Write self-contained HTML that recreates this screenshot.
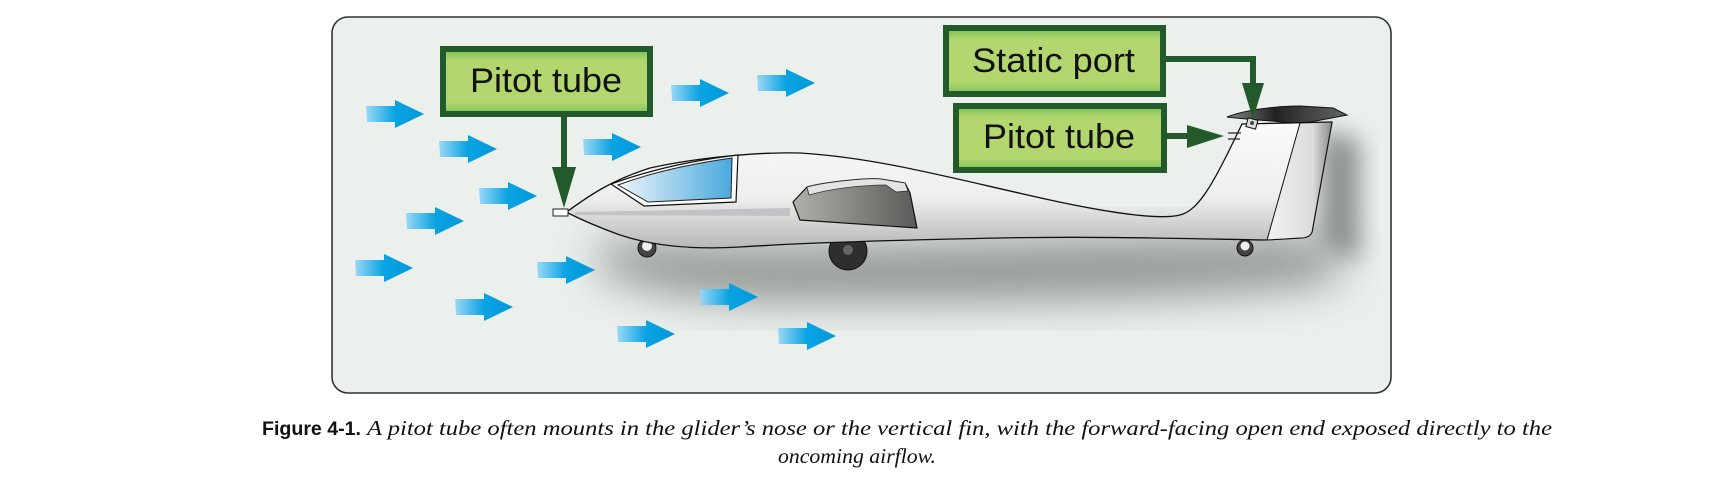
<!DOCTYPE html>
<html><head><meta charset="utf-8"><style>
html,body{margin:0;padding:0;background:#fff;}
svg{display:block;}
</style></head><body>
<svg width="1723" height="486" viewBox="0 0 1723 486" xmlns="http://www.w3.org/2000/svg">
<defs>
<linearGradient id="box" x1="0" y1="0" x2="0" y2="1">
<stop offset="0" stop-color="#74bf55"/><stop offset="0.18" stop-color="#b3d66e"/><stop offset="0.82" stop-color="#b3d66e"/><stop offset="1" stop-color="#7cc557"/>
</linearGradient>
<linearGradient id="arr" x1="0" y1="0" x2="1" y2="0">
<stop offset="0" stop-color="#9ad8f6"/><stop offset="0.5" stop-color="#0aa3e2"/><stop offset="1" stop-color="#0099dc"/>
</linearGradient>
<linearGradient id="fus" x1="0" y1="0" x2="0" y2="1">
<stop offset="0" stop-color="#fbfbfb"/><stop offset="0.6" stop-color="#eeeeee"/><stop offset="1" stop-color="#b8b8b6"/>
</linearGradient>
<linearGradient id="glass" x1="0" y1="0" x2="1" y2="0">
<stop offset="0" stop-color="#eef4fa"/><stop offset="1" stop-color="#4aa9dd"/>
</linearGradient>
<linearGradient id="wing" x1="0" y1="0" x2="1" y2="0">
<stop offset="0" stop-color="#b0b0ab"/><stop offset="1" stop-color="#5a5a58"/>
</linearGradient>
<linearGradient id="stab" x1="0" y1="0" x2="1" y2="0">
<stop offset="0" stop-color="#888"/><stop offset="0.4" stop-color="#222"/><stop offset="1" stop-color="#666"/>
</linearGradient>
<linearGradient id="rud" x1="0" y1="0" x2="1" y2="0">
<stop offset="0" stop-color="#f2f2f2"/><stop offset="0.7" stop-color="#dcdcdc"/><stop offset="1" stop-color="#8a8a8a"/>
</linearGradient>
<filter id="blur" x="-20%" y="-50%" width="140%" height="200%"><feGaussianBlur stdDeviation="22"/></filter>
<filter id="blur2" x="-50%" y="-50%" width="200%" height="200%"><feGaussianBlur stdDeviation="12"/></filter>
<g id="a"><path d="M0,-8 L29,-8 L29,-14 L58,0 L29,14 L29,8 L1,8 Z" fill="url(#arr)"/></g>
</defs>

<rect x="332" y="17" width="1059" height="376" rx="16" ry="16" fill="#ebf0ed" stroke="#333" stroke-width="1.6"/>

<g opacity="0.75">
<path d="M600,240 C700,250 900,246 1100,240 L1330,238 L1340,280 C1200,300 1000,300 800,300 C700,300 640,290 600,270 Z" fill="#6f7370" filter="url(#blur)"/>
<path d="M1320,130 L1360,140 L1360,260 L1320,250 Z" fill="#6f7370" filter="url(#blur2)"/>
</g>

<use href="#a" x="366" y="114"/>
<use href="#a" x="439" y="149"/>
<use href="#a" x="479" y="196"/>
<use href="#a" x="406" y="221"/>
<use href="#a" x="355" y="268"/>
<use href="#a" x="455" y="307"/>
<use href="#a" x="537" y="270"/>
<use href="#a" x="583" y="147"/>
<use href="#a" x="671" y="93"/>
<use href="#a" x="757" y="83"/>
<use href="#a" x="700" y="297"/>
<use href="#a" x="617" y="334"/>
<use href="#a" x="778" y="336"/>

<circle cx="647" cy="248" r="9" fill="#444" stroke="#111"/>
<circle cx="647" cy="246" r="5" fill="#eee"/>
<circle cx="848" cy="251" r="19" fill="#2e2e2e" stroke="#111"/>
<circle cx="848" cy="250" r="5" fill="#666"/>
<circle cx="1245" cy="248" r="8" fill="#444" stroke="#111"/>
<circle cx="1245" cy="246" r="4.5" fill="#eee"/>

<path d="M1227,117 C1245,110 1275,106 1300,106 L1333,108 L1347,115 L1300,124 C1280,121 1250,120 1227,117 Z" fill="url(#stab)" stroke="#111" stroke-width="1"/>

<path d="M568,211 C590,195 612,180 650,168 C700,157 760,152 800,153 C880,158 950,178 1050,200 C1110,213 1160,220 1180,215 C1200,210 1215,180 1242,124 L1332,122 L1312,232 C1310,237 1305,238 1300,238 L1265,240 C1200,239 1100,236 1000,238 C900,240 800,243 740,247 C690,250 650,245 620,235 C595,226 578,218 568,213 Z" fill="url(#fus)" stroke="#111" stroke-width="1.3"/>
<path d="M1300,123 L1332,122 L1312,232 C1310,237 1305,238 1300,238 L1267,240 Z" fill="url(#rud)" stroke="#111" stroke-width="1"/>
<rect x="553" y="209" width="15" height="7" fill="#fff" stroke="#222" stroke-width="1"/>
<polygon points="575,212 790,208 790,216 575,215" fill="#c2c3c6"/>
<path d="M611,184 L644,206 L736,202 L738,155 C695,160 650,170 611,184 Z" fill="#fafafa" stroke="#111" stroke-width="1.2"/>
<path d="M618,185 L648,202 L731,198 L732,158 C690,164 650,173 618,185 Z" fill="url(#glass)" stroke="#222" stroke-width="1"/>
<path d="M793,202 L807,187 C830,181 870,178 880,179 L905,183 L910,193 L917,228 L800,220 Z" fill="url(#wing)" stroke="#111" stroke-width="1.2"/>
<path d="M807,187 C830,181 870,178 880,179 L905,183 L908,191 L896,192 L886,185 C860,185 830,189 809,195 Z" fill="#e4e4e2" stroke="#333" stroke-width="0.8"/>
<rect x="1247" y="119" width="10" height="9" fill="#ddd" stroke="#111" stroke-width="1" transform="rotate(15 1252 123)"/>
<circle cx="1252" cy="123" r="2" fill="#444"/>
<line x1="1228" y1="133" x2="1241" y2="133" stroke="#222" stroke-width="1.2"/>
<line x1="1228" y1="139" x2="1240" y2="139" stroke="#222" stroke-width="1.2"/>

<rect x="443" y="49" width="207" height="65" fill="url(#box)" stroke="#235a2b" stroke-width="6"/>
<text x="470" y="92" font-family="Liberation Sans, sans-serif" font-size="34" textLength="152" lengthAdjust="spacingAndGlyphs" fill="#111">Pitot tube</text>
<rect x="946" y="28" width="217" height="66" fill="url(#box)" stroke="#235a2b" stroke-width="6"/>
<text x="972" y="72" font-family="Liberation Sans, sans-serif" font-size="34" textLength="163" lengthAdjust="spacingAndGlyphs" fill="#111">Static port</text>
<rect x="956" y="106" width="208" height="64" fill="url(#box)" stroke="#235a2b" stroke-width="6"/>
<text x="983" y="148" font-family="Liberation Sans, sans-serif" font-size="34" textLength="152" lengthAdjust="spacingAndGlyphs" fill="#111">Pitot tube</text>

<line x1="564" y1="117" x2="564" y2="170" stroke="#235a2b" stroke-width="6"/>
<polygon points="552,167 576,167 564,208" fill="#235a2b"/>
<polyline points="1166,59 1253,59 1253,86" fill="none" stroke="#235a2b" stroke-width="6"/>
<polygon points="1242,83 1264,83 1253,119" fill="#235a2b"/>
<line x1="1167" y1="136" x2="1190" y2="136" stroke="#235a2b" stroke-width="6"/>
<polygon points="1187,125 1187,148 1224,136" fill="#235a2b"/>

<text x="262" y="435" font-family="Liberation Sans, sans-serif" font-weight="bold" font-size="19" textLength="99" lengthAdjust="spacingAndGlyphs" fill="#111">Figure 4-1.</text>
<text x="367" y="435" font-family="Liberation Serif, serif" font-style="italic" font-size="21" textLength="1185" lengthAdjust="spacingAndGlyphs" fill="#111">A pitot tube often mounts in the glider’s nose or the vertical fin, with the forward-facing open end exposed directly to the</text>
<text x="778" y="463" font-family="Liberation Serif, serif" font-style="italic" font-size="21" textLength="158" lengthAdjust="spacingAndGlyphs" fill="#111">oncoming airflow.</text>
</svg>
</body></html>
